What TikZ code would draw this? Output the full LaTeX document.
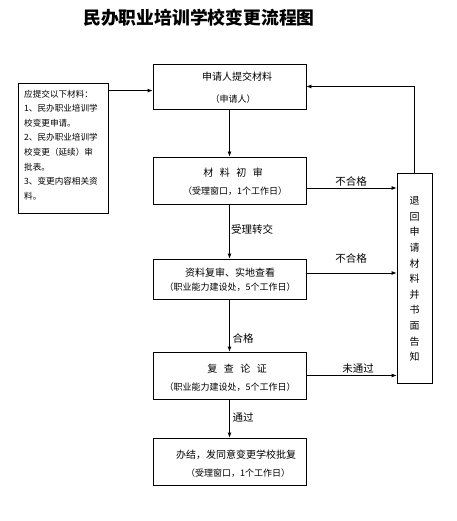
\documentclass[tikz,border=0pt]{standalone}
\usepackage{fontspec}
\setmainfont{Noto Sans CJK SC}
\usetikzlibrary{arrows.meta}
\begin{document}
\begin{tikzpicture}[x=1pt,y=-1pt,
  box/.style={draw, line width=0.8pt, inner sep=0pt},
  arr/.style={-{Latex[length=5pt,width=4pt]}, line width=0.8pt},
  lbl/.style={font=\fontsize{10.5}{12}\selectfont, inner sep=0pt},
  tmain/.style={font=\fontsize{10}{12}\selectfont, inner sep=0pt},
  tsub/.style={font=\fontsize{9}{11}\selectfont, inner sep=0pt}]
\useasboundingbox (0,0) rectangle (456,521);
% title
\node[font=\fontsize{17.8}{20}\selectfont\bfseries, inner sep=0pt] (title) at (199,18) {民办职业培训学校变更流程图};
% boxes
\node[box, minimum width=153pt, minimum height=45pt] (b1) at (229.5,86.5) {};
\node[box, minimum width=153pt, minimum height=47pt] (b2) at (229.5,180.5) {};
\node[box, minimum width=153pt, minimum height=40pt] (b3) at (229.5,279) {};
\node[box, minimum width=153pt, minimum height=47pt] (b4) at (229.5,375.5) {};
\node[box, minimum width=153pt, minimum height=47pt] (b5) at (229.5,461.5) {};
\node[box, minimum width=90pt, minimum height=130pt] (lb) at (63,148) {};
\node[box, minimum width=35pt, minimum height=210pt] (rb) at (414.5,278) {};
% box texts
\node[tmain] (t1a) at (237,77) {申请人提交材料};
\node[tsub]  (t1b) at (233,99) {（申请人）};
\node[tmain] (t2a) at (233,173) {材\hspace{6.5pt}料\hspace{6.5pt}初\hspace{6.5pt}审};
\node[tsub]  (t2b) at (235,191) {（受理窗口，1个工作日）};
\node[tmain] (t3a) at (230,273) {资料复审、实地查看};
\node[tsub]  (t3b) at (230,287.5) {（职业能力建设处，5个工作日）};
\node[tmain] (t4a) at (237,369) {复\hspace{6.5pt}查\hspace{6.5pt}论\hspace{6.5pt}证};
\node[tsub]  (t4b) at (230,387) {（职业能力建设处，5个工作日）};
\node[tmain] (t5a) at (236,455) {办结，发同意变更学校批复};
\node[tsub]  (t5b) at (238,473) {（受理窗口，1个工作日）};
% left box text
\node[anchor=north west, inner sep=0pt, align=left,
      font=\fontsize{8.6}{14.6}\selectfont] (lt) at (24,89.5)
 {应提交以下材料：\\1、民办职业培训学\\校变更申请。\\2、民办职业培训学\\校变更（延续）审\\批表。\\3、变更内容相关资\\料。};
% right box text
\node[inner sep=0pt, align=center, font=\fontsize{10}{15.6}\selectfont] (rt) at (414.5,279)
 {退\\回\\申\\请\\材\\料\\并\\书\\面\\告\\知};
% connectors
\draw[arr] (b1.south) -- (b2.north);
\draw[arr] (b2.south) -- (b3.north);
\draw[arr] (b3.south) -- (b4.north);
\draw[arr] (b4.south) -- (b5.north);
\draw[arr] ([yshift=-8pt]lb.north east) -- ([yshift=-8pt]lb.north east -| b1.west);
\draw[arr] ([yshift=-7.5pt]b2.east) -- ([yshift=-7.5pt]b2.east -| rb.west);
\draw[arr] ([yshift=6pt]b3.east) -- ([yshift=6pt]b3.east -| rb.west);
\draw[arr] (b4.east) -- (b4.east -| rb.west);
\draw[arr] (rb.north) |- (b1.east);
% labels
\node[lbl] (l1) at (351,181) {不合格};
\node[lbl] (l2) at (351,258.5) {不合格};
\node[lbl] (l3) at (358,368.5) {未通过};
\node[lbl] (l4) at (252,229) {受理转交};
\node[lbl] (l5) at (243,338) {合格};
\node[lbl] (l6) at (243,417) {通过};
\end{tikzpicture}
\end{document}
